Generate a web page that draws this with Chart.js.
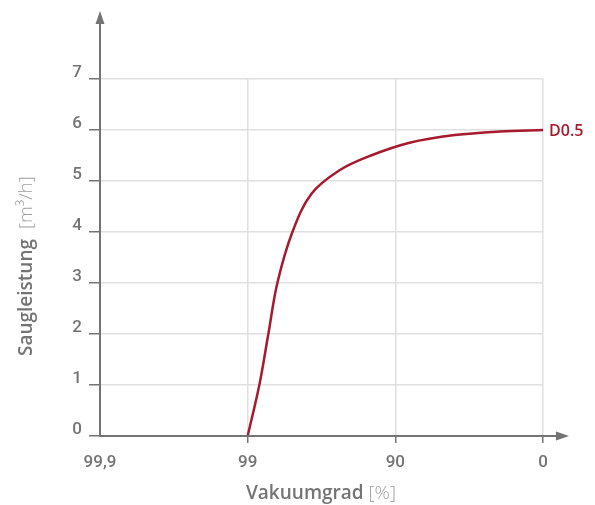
<!DOCTYPE html>
<html>
<head>
<meta charset="utf-8">
<script src="https://cdn.jsdelivr.net/npm/chart.js@4"></script>
<style>
  body { margin: 0; background: #fff; }
  #wrap { width: 595px; height: 505px; }
</style>
</head>
<body>
<div id="wrap"><canvas id="vacuumChart" width="595" height="505"></canvas></div>
<script>
// x positions are equally spaced categories: 99,9 | 99 | 90 | 0
const xTickLabels = ['99,9', '99', '90', '0'];
const yTicks = [0, 1, 2, 3, 4, 5, 6, 7];
// curve D0.5, x as position between the vacuum tick labels
const curveX = [1, 1.079, 1.140, 1.201, 1.303, 1.432, 1.622, 1.826, 2.097, 2.403, 2.708, 3];
const curveY = [0, 1, 2, 3, 4, 4.75, 5.21, 5.49, 5.75, 5.90, 5.97, 6];
const seriesName = 'D0.5';

const gray = '#747474';
const lightGray = '#a0a0a0';
const red = '#a6192e';
const fontFamily = "'Open Sans', 'DejaVu Sans', sans-serif";
const tickFont = { family: "Roboto, 'DejaVu Sans', sans-serif", size: 17, weight: '500' };

document.addEventListener('DOMContentLoaded', function() {
    const ctx = document.getElementById('vacuumChart');

    // axis lines with arrows, axis titles and the end label of the curve
    const decorations = {
        id: 'decorations',
        afterDraw(chart) {
            const c = chart.ctx;
            const area = chart.chartArea;
            c.save();
            c.strokeStyle = gray;
            c.fillStyle = gray;
            c.lineWidth = 2;
            c.beginPath();
            c.moveTo(area.left, area.bottom + 1);
            c.lineTo(area.left, 20);
            c.moveTo(area.left - 1, area.bottom);
            c.lineTo(area.right + 18, area.bottom);
            c.stroke();
            // arrow heads
            c.beginPath();
            c.moveTo(area.left, 11);
            c.lineTo(area.left - 4.5, 24);
            c.lineTo(area.left + 4.5, 24);
            c.closePath();
            c.fill();
            c.beginPath();
            c.moveTo(area.right + 26, area.bottom);
            c.lineTo(area.right + 13, area.bottom - 4.5);
            c.lineTo(area.right + 13, area.bottom + 4.5);
            c.closePath();
            c.fill();

            // x title: bold word plus light unit
            c.textBaseline = 'alphabetic';
            const boldFont = '600 19px ' + fontFamily;
            const lightFont = '300 19px ' + fontFamily;
            c.font = boldFont;
            const w1 = c.measureText('Vakuumgrad ').width;
            let x0 = 246;
            c.fillStyle = gray;
            c.fillText('Vakuumgrad ', x0, 499);
            c.font = lightFont;
            c.fillStyle = lightGray;
            c.fillText('[%]', x0 + w1, 499);

            // y title rotated
            c.translate(32, 0);
            c.rotate(-Math.PI / 2);
            c.font = boldFont;
            c.fillStyle = gray;
            const yStart = -356;
            c.fillText('Saugleistung  ', yStart, 0);
            const w3 = c.measureText('Saugleistung  ').width;
            c.font = lightFont;
            c.fillStyle = lightGray;
            c.fillText('[m³/h]', yStart + w3, 0);
            c.restore();

            // series name at curve end
            const meta = chart.getDatasetMeta(0);
            const last = meta.data[meta.data.length - 1];
            c.save();
            c.font = '600 16px ' + fontFamily;
            c.fillStyle = red;
            c.textBaseline = 'middle';
            c.fillText(seriesName, last.x + 6, last.y + 1);
            c.restore();
        }
    };

    new Chart(ctx, {
        type: 'line',
        data: {
            datasets: [{
                label: seriesName,
                data: curveX.map((x, i) => ({ x: x, y: curveY[i] })),
                borderColor: red,
                borderWidth: 2.5,
                pointRadius: 0,
                tension: 0.35,
                clip: false
            }]
        },
        options: {
            responsive: false,
            animation: false,
            layout: { padding: { top: 79, right: 52, left: 0, bottom: 0 } },
            plugins: {
                legend: { display: false },
                tooltip: { enabled: false }
            },
            scales: {
                x: {
                    type: 'linear',
                    min: 0,
                    max: 3,
                    afterFit(scale) { scale.height = 69; },
                    afterBuildTicks(scale) {
                        scale.ticks = xTickLabels.map((l, i) => ({ value: i }));
                    },
                    border: { display: false },
                    grid: {
                        color: (c) => c.index === 0 ? 'rgba(0,0,0,0)' : '#e0e0e0',
                        tickColor: (c) => c.index === 0 ? 'rgba(0,0,0,0)' : gray,
                        lineWidth: 1.5,
                        tickLength: 7,
                        tickWidth: 1.5
                    },
                    ticks: {
                        callback: (v) => xTickLabels[v],
                        color: gray,
                        padding: 10,
                        maxRotation: 0,
                        font: tickFont
                    }
                },
                y: {
                    min: 0,
                    max: 7,
                    afterFit(scale) { scale.width = 100; },
                    afterBuildTicks(scale) {
                        scale.ticks = yTicks.map((v) => ({ value: v }));
                    },
                    border: { display: false },
                    grid: {
                        color: (c) => c.index === 0 ? 'rgba(0,0,0,0)' : '#e0e0e0',
                        tickColor: gray,
                        lineWidth: 1.5,
                        tickLength: 11,
                        tickWidth: 1.5
                    },
                    ticks: {
                        color: gray,
                        padding: 7,
                        labelOffset: -6,
                        font: tickFont
                    }
                }
            }
        },
        plugins: [decorations]
    });
});
</script>
</body>
</html>
